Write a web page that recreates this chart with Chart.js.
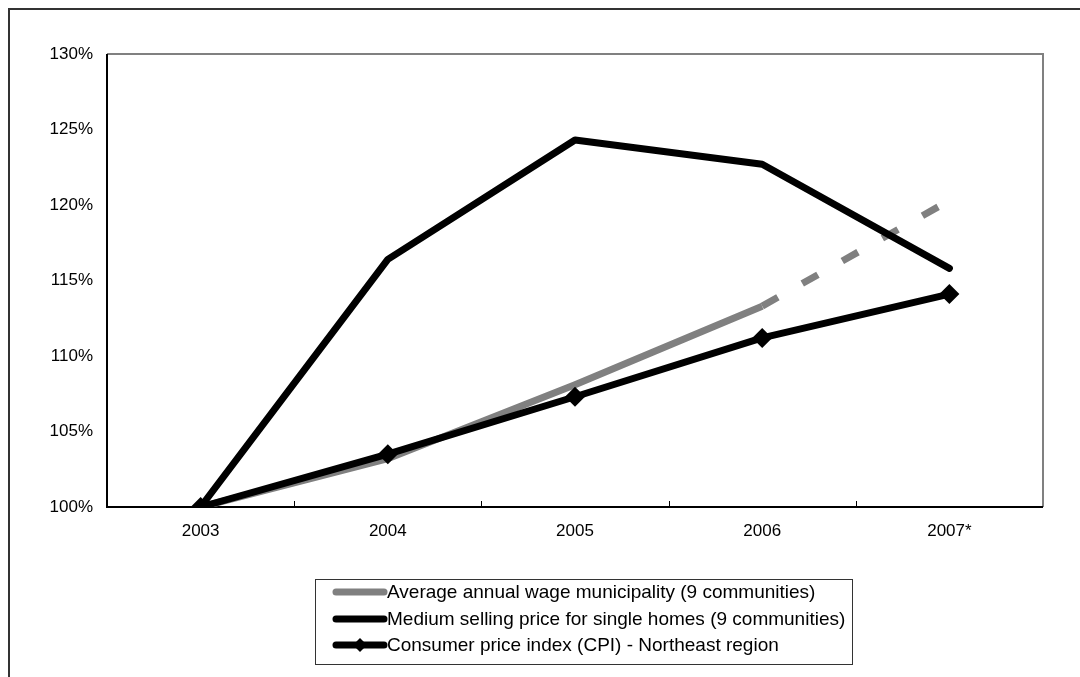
<!DOCTYPE html>
<html>
<head>
<meta charset="utf-8">
<script src="https://cdn.jsdelivr.net/npm/chart.js@4"></script>
<style>
  html, body { margin: 0; padding: 0; background: #fff; overflow: hidden; }
  #frame { position: absolute; left: 8px; top: 8px; width: 1100px; height: 700px; border: 2px solid #333; }
  #wrap { position: absolute; left: 0; top: 0; width: 1080px; height: 677px; }
</style>
</head>
<body>
<div id="frame"></div>
<div id="wrap"><canvas id="myChart" width="1080" height="677"></canvas></div>
<script>
const years = ['2003', '2004', '2005', '2006', '2007*'];
const wage = [100, 103.2, 108.1, 113.3, 120.3];
const homePrice = [100, 116.4, 124.3, 122.7, 115.8];
const cpi = [100, 103.5, 107.3, 111.2, 114.1];
const seriesNames = [
  'Average annual wage municipality (9 communities)',
  'Medium selling price for single homes (9 communities)',
  'Consumer price index (CPI) - Northeast region'
];
const yTicks = [100, 105, 110, 115, 120, 125, 130];

const FONT = 'Arial, "Liberation Sans", sans-serif';

// plot frame, inward tick marks and the boxed legend
const framePlugin = {
  id: 'frame',
  beforeDatasetsDraw(chart) {
    const {ctx, chartArea: a, scales: {x}} = chart;
    ctx.save();
    ctx.lineWidth = 2;
    ctx.strokeStyle = '#808080';
    ctx.beginPath();
    ctx.moveTo(a.left, a.top);
    ctx.lineTo(a.right, a.top);
    ctx.lineTo(a.right, a.bottom);
    ctx.stroke();
    ctx.strokeStyle = '#000';
    ctx.beginPath();
    ctx.moveTo(a.left, a.top);
    ctx.lineTo(a.left, a.bottom);
    ctx.lineTo(a.right, a.bottom);
    ctx.stroke();
    ctx.lineWidth = 1;
    for (let i = 0; i < years.length - 1; i++) {
      const px = Math.round((x.getPixelForValue(i) + x.getPixelForValue(i + 1)) / 2) + 0.5;
      ctx.beginPath();
      ctx.moveTo(px, a.bottom);
      ctx.lineTo(px, a.bottom - 6);
      ctx.stroke();
    }
    ctx.restore();
  },
  afterDraw(chart) {
    const ctx = chart.ctx;
    const bx = 315, by = 579, bw = 537, bh = 85;
    ctx.save();
    ctx.strokeStyle = '#333';
    ctx.lineWidth = 1;
    ctx.strokeRect(bx + 0.5, by + 0.5, bw, bh);
    const rows = [592, 619, 645];
    const x0 = 333, x1 = 387;
    rows.forEach((ry, i) => {
      ctx.lineCap = 'round';
      ctx.lineWidth = 7;
      ctx.strokeStyle = i === 0 ? '#808080' : '#000';
      ctx.beginPath();
      ctx.moveTo(x0 + 3, ry);
      ctx.lineTo(x1 - 3, ry);
      ctx.stroke();
      if (i === 2) {
        ctx.fillStyle = '#000';
        ctx.beginPath();
        const cx = (x0 + x1) / 2;
        ctx.moveTo(cx, ry - 7);
        ctx.lineTo(cx + 7, ry);
        ctx.lineTo(cx, ry + 7);
        ctx.lineTo(cx - 7, ry);
        ctx.closePath();
        ctx.fill();
      }
      ctx.fillStyle = '#000';
      ctx.font = '19px ' + FONT;
      ctx.textBaseline = 'middle';
      ctx.textAlign = 'left';
      ctx.fillText(seriesNames[i], x1, ry + 1);
    });
    ctx.restore();
  }
};

const ctx = document.getElementById('myChart').getContext('2d');
new Chart(ctx, {
  type: 'line',
  data: {
    labels: years,
    datasets: [
      {
        label: seriesNames[0],
        data: wage,
        borderColor: '#808080',
        borderWidth: 7,
        pointRadius: 0,
        tension: 0,
        order: 3,
        segment: {
          borderDash: c => c.p1DataIndex === years.length - 1 ? [18, 28] : undefined
        }
      },
      {
        label: seriesNames[1],
        data: homePrice,
        borderColor: '#000',
        borderWidth: 7,
        pointRadius: 0,
        borderCapStyle: 'round',
        borderJoinStyle: 'round',
        tension: 0,
        order: 2
      },
      {
        label: seriesNames[2],
        data: cpi,
        borderColor: '#000',
        backgroundColor: '#000',
        borderWidth: 7,
        pointStyle: 'rectRot',
        pointRadius: 10,
        pointBorderWidth: 0,
        borderCapStyle: 'round',
        borderJoinStyle: 'round',
        tension: 0,
        order: 1
      }
    ]
  },
  options: {
    responsive: false,
    animation: false,
    layout: { padding: { top: 54, right: 37, left: 0, bottom: 0 } },
    plugins: { legend: { display: false }, tooltip: { enabled: false } },
    scales: {
      x: {
        offset: true,
        grid: { display: false, drawTicks: false },
        border: { display: false },
        ticks: { color: '#000', font: { size: 17, family: FONT }, padding: 14 },
        afterFit: s => { s.height = 170; }
      },
      y: {
        min: 100,
        max: 130,
        afterBuildTicks: s => { s.ticks = yTicks.map(v => ({ value: v })); },
        grid: { display: false, drawTicks: false },
        border: { display: false },
        ticks: { color: '#000', font: { size: 17, family: FONT }, padding: 14, callback: v => v + '%' },
        afterFit: s => { s.width = 107; }
      }
    }
  },
  plugins: [framePlugin]
});
</script>
</body>
</html>
